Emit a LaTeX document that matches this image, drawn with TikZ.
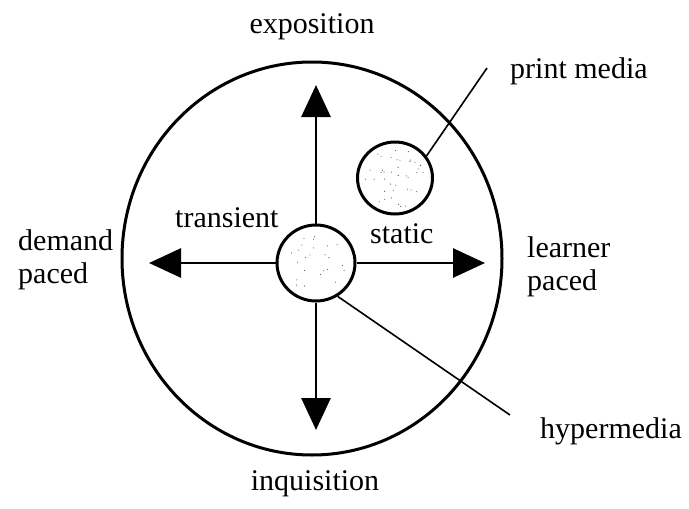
\documentclass[tikz,border=0pt]{standalone}
\usepackage{fontspec}
\setmainfont{Liberation Serif}
\usetikzlibrary{arrows.meta,shapes.geometric}
\begin{document}
\begin{tikzpicture}[x=1pt,y=-1pt,
  lbl/.style={font=\fontsize{30}{33}\selectfont, inner sep=0pt},
  ring/.style={draw, ellipse, line width=3pt, inner sep=0pt},
  axis/.style={line width=2.8pt, -{Triangle[length=32pt,width=29pt]}},
  leader/.style={line width=1.6pt},
  speck/.style={fill=black!70}]
\useasboundingbox (0,0) rectangle (689,509);
\node[ring, minimum width=380pt, minimum height=393pt] (outer) at (312,258.5) {};
\node[ring, minimum width=78pt, minimum height=76pt] (hyp) at (316,263) {};
\node[ring, minimum width=75pt, minimum height=72pt] (pc) at (395,178) {};
% stipple
\pgfmathsetseed{7}
\foreach \i in {1,...,24} {
  \pgfmathsetmacro\ang{rnd*360}
  \pgfmathsetmacro\rad{sqrt(rnd)*30}
  \fill[speck] (hyp.center) ++(\ang:\rad pt) circle (0.55pt);
}
\foreach \i in {1,...,40} {
  \pgfmathsetmacro\ang{rnd*360}
  \pgfmathsetmacro\rad{sqrt(rnd)*30}
  \fill[speck] (pc.center) ++(\ang:\rad pt) circle (0.55pt);
}
% axes
\coordinate (uptip) at (316,85);
\coordinate (downtip) at (316,430);
\coordinate (lefttip) at (149,263);
\coordinate (righttip) at (485,263);
\draw[axis] (hyp.north) -- (uptip);
\draw[axis] (hyp.south) -- (downtip);
\draw[axis] (hyp.west) -- (lefttip);
\draw[axis] (hyp.east) -- (righttip);
% labels
\node[lbl, anchor=base] (expo) at (312,33) {exposition};
\node[lbl, anchor=base] (inq) at (315,490) {inquisition};
\node[lbl, anchor=west, align=left] (demand) at (18,260) {demand\\paced};
\node[lbl, anchor=west, align=left] (learner) at (527,267) {learner\\paced};
\node[lbl, anchor=base west] (trans) at (175,227) {transient};
\node[lbl, anchor=base west] (stat) at (370,243) {static};
\node[lbl, anchor=base west] (print) at (510,78) {print media};
\node[lbl, anchor=base west] (hyper) at (540,438) {hypermedia};
% leaders
\coordinate (printend) at (487,68);
\coordinate (hyperend) at (510,415);
\draw[leader] (pc.35) -- (printend);
\draw[leader] (hyp.-57) -- (hyperend);
\end{tikzpicture}
\end{document}
